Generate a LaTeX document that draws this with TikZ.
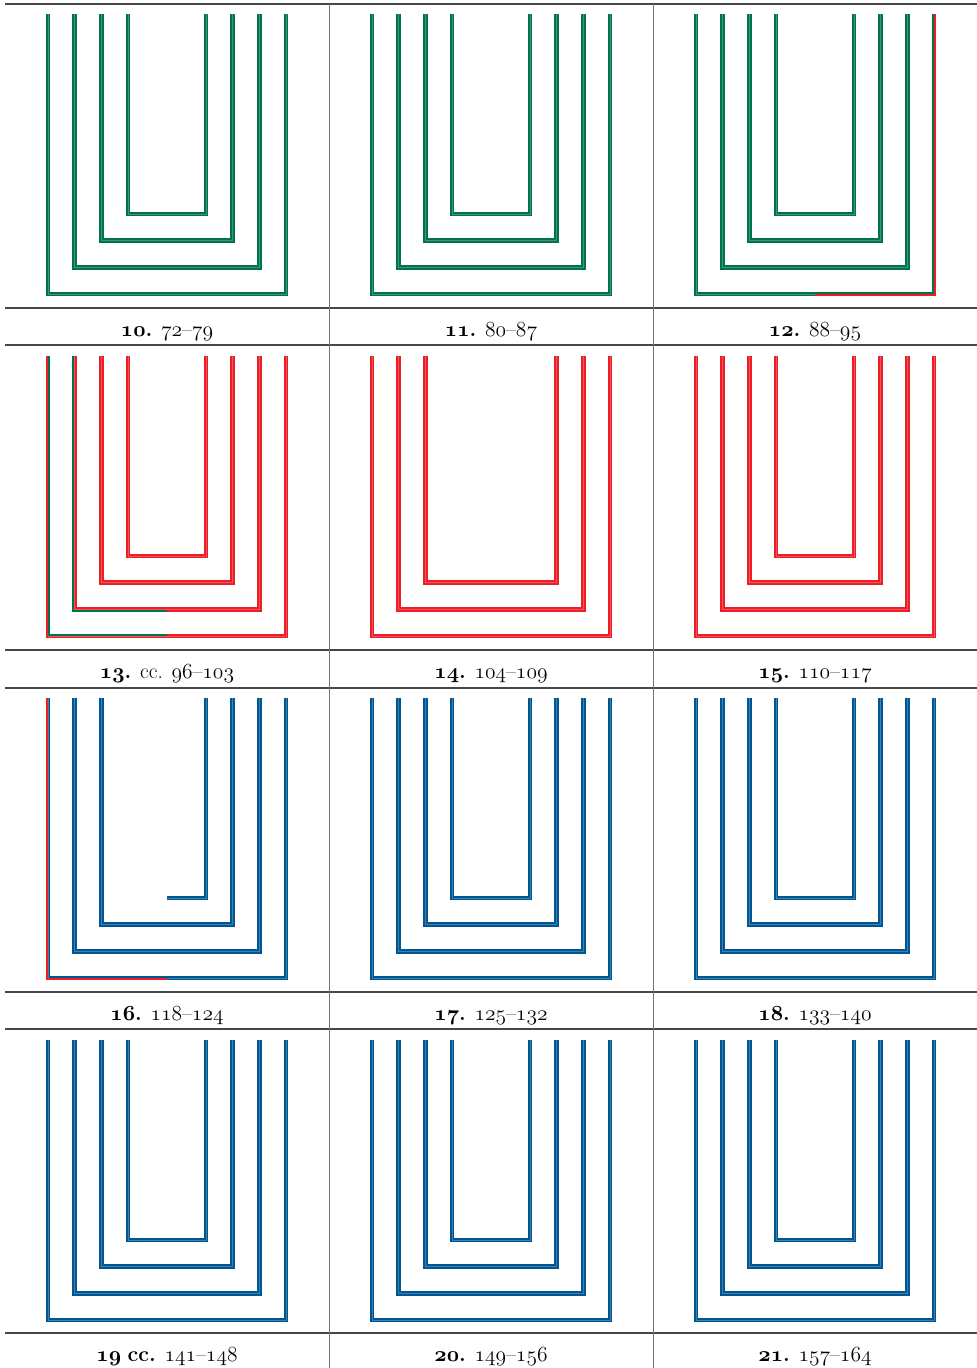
\documentclass[tikz,border=0pt]{standalone}
\usepackage{fix-cm}
\definecolor{ugreen}{RGB}{0,116,72}
\definecolor{ured}{RGB}{237,30,38}
\definecolor{ublue}{RGB}{0,86,146}
\newcommand\osn[1]{$\mathnormal{#1}$}
\newcommand\bosn[1]{{\boldmath$\mathnormal{#1}$}}
\newcommand\DrawU[4]{%
  \pgfmathsetmacro\uL{48+26.667*#3+324*#1}%
  \pgfmathsetmacro\uR{286-26.667*#3+324*#1}%
  \pgfmathsetmacro\uB{294-26.667*#3+342*#2}%
  \pgfmathsetmacro\uT{14+342*#2}%
  \draw[uline,#4] (\uL,\uT) -- (\uL,\uB) -- (\uR,\uB) -- (\uR,\uT);%
}
\tikzset{
  rulerow/.style={line width=2pt, draw=black!72},
  colsep/.style={line width=0.9pt, draw=black!55},
  uline/.style={line width=2.2pt, double distance=0.45pt, miter limit=10},
  ugr/.style={draw=ugreen, double=ugreen!75!white},
  urd/.style={draw=ured, double=ured!75!white},
  ubl/.style={draw=ublue, double=ublue!75!white},
  half/.style={line width=2.2pt, miter limit=10},
  lab/.style={anchor=base, inner sep=0pt, font=\fontsize{21.5}{24}\selectfont}
}
\begin{document}
\begin{tikzpicture}[x=1pt,y=-1pt]
\useasboundingbox (0,0) rectangle (977,1368);
% row 1
\foreach \k in {0,1,2,3} {\DrawU{0}{0}{\k}{ugr}\DrawU{1}{0}{\k}{ugr}\DrawU{2}{0}{\k}{ugr}}
\draw[half, draw=ured] (815,295.33) -- (935.33,295.33) -- (935.33,14);
% row 2
\foreach \k in {0,1,2,3} {\DrawU{0}{1}{\k}{urd}\DrawU{2}{1}{\k}{urd}}
\foreach \k in {0,1,2} {\DrawU{1}{1}{\k}{urd}}
\draw[half, draw=ugreen] (49.33,356) -- (49.33,634.67) -- (167,634.67);
\draw[half, draw=ugreen] (73.33,356) -- (73.33,610.67) -- (167,610.67);
% row 3
\foreach \k in {0,1,2} {\DrawU{0}{2}{\k}{ubl}}
\draw[uline, ubl] (167,898) -- (206,898) -- (206,698);
\draw[half, draw=ured] (46.67,698) -- (46.67,979.33) -- (167,979.33);
\foreach \k in {0,1,2,3} {\DrawU{1}{2}{\k}{ubl}\DrawU{2}{2}{\k}{ubl}}
% row 4
\foreach \k in {0,1,2,3} {\DrawU{0}{3}{\k}{ubl}\DrawU{1}{3}{\k}{ubl}\DrawU{2}{3}{\k}{ubl}}
% rules
\foreach \y in {3.5,307.5,345,649.5,687.5,991.5,1029,1333}
  \draw[rulerow] (5,\y) -- (977,\y);
\draw[colsep] (329,3.5) -- (329,1368);
\draw[colsep] (653,3.5) -- (653,1368);
% labels
\node[lab] (l10) at (167,336) {\bosn{10}\textbf{.} \osn{72}--\osn{79}};
\node[lab] (l11) at (491,336) {\bosn{11}\textbf{.} \osn{80}--\osn{87}};
\node[lab] (l12) at (815,336) {\bosn{12}\textbf{.} \osn{88}--\osn{95}};
\node[lab] (l13) at (167,678) {\bosn{13}\textbf{.} cc. \osn{96}--\osn{103}};
\node[lab] (l14) at (491,678) {\bosn{14}\textbf{.} \osn{104}--\osn{109}};
\node[lab] (l15) at (815,678) {\bosn{15}\textbf{.} \osn{110}--\osn{117}};
\node[lab] (l16) at (167,1020) {\bosn{16}\textbf{.} \osn{118}--\osn{124}};
\node[lab] (l17) at (491,1020) {\bosn{17}\textbf{.} \osn{125}--\osn{132}};
\node[lab] (l18) at (815,1020) {\bosn{18}\textbf{.} \osn{133}--\osn{140}};
\node[lab] (l19) at (167,1361) {\bosn{19} \textbf{cc.} \osn{141}--\osn{148}};
\node[lab] (l20) at (491,1361) {\bosn{20}\textbf{.} \osn{149}--\osn{156}};
\node[lab] (l21) at (815,1361) {\bosn{21}\textbf{.} \osn{157}--\osn{164}};
\end{tikzpicture}
\end{document}
